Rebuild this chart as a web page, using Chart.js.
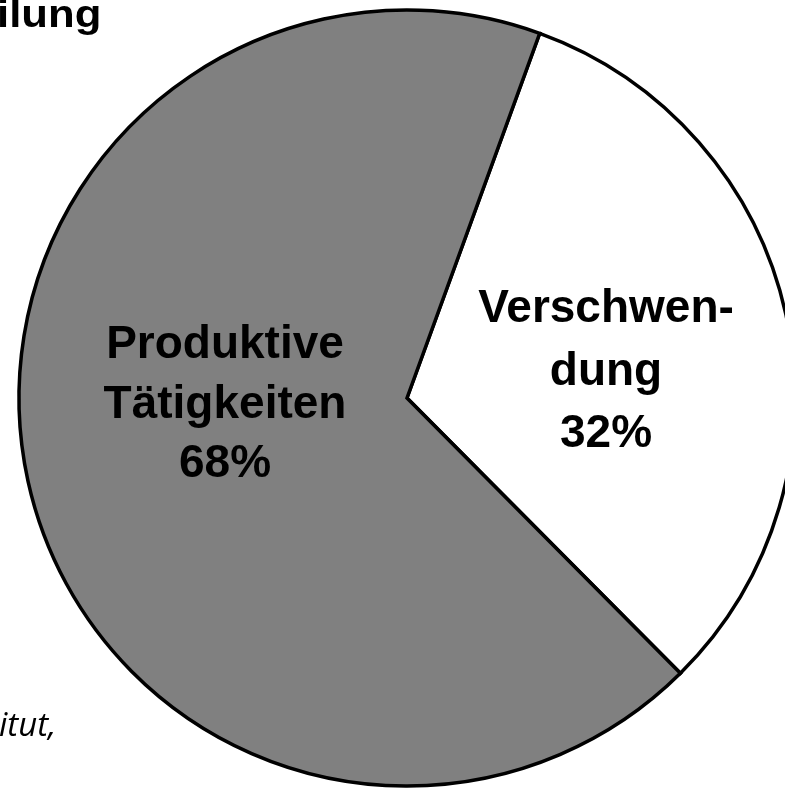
<!DOCTYPE html>
<html>
<head>
<meta charset="utf-8">
<script src="https://cdn.jsdelivr.net/npm/chart.js@4"></script>
<style>
  html, body { margin: 0; padding: 0; background: #fff; width: 785px; height: 788px; overflow: hidden; position: relative; }
  #wrap { position: absolute; left: 7px; top: -2px; width: 800px; height: 800px; }
  #title { position: absolute; left: -3px; top: -6px; font: bold 39px "Liberation Sans", Arial, sans-serif; line-height: 1; color: #000; white-space: nowrap; z-index: 2; transform: scaleX(1.12); transform-origin: 0 0; }
  #source { position: absolute; left: -1px; top: 704px; font: italic 33px "Open Sans", "Noto Sans", sans-serif; line-height: 1.2; color: #000; white-space: nowrap; z-index: 2; }
</style>
</head>
<body>
<div id="title">ilung</div>
<div id="source">itut,</div>
<div id="wrap"><canvas id="c" width="800" height="800"></canvas></div>
<script>
// Data
const categories = ['Verschwendung', 'Produktive Tätigkeiten'];
const labelLines = [['Verschwen-', 'dung'], ['Produktive', 'Tätigkeiten']];
const shares = [32, 68];
const sliceColors = ['#ffffff', '#808080'];

// Label placement (relative to pie centre, px) - layout only
const labelAnchors = [
  { dx: 199, dy: -76, lineGap: 62.5 },
  { dx: -182, dy: -40, lineGap: 59.5 }
];

const sliceLabels = {
  id: 'sliceLabels',
  afterDatasetsDraw(chart) {
    const meta = chart.getDatasetMeta(0);
    const ctx = chart.ctx;
    ctx.save();
    ctx.font = 'bold 46px "Liberation Sans", Arial, sans-serif';
    ctx.fillStyle = '#000';
    ctx.textAlign = 'center';
    ctx.textBaseline = 'alphabetic';
    meta.data.forEach((arc, i) => {
      const a = labelAnchors[i];
      const lines = labelLines[i].concat([shares[i] + '%']);
      lines.forEach((t, k) => {
        ctx.fillText(t, arc.x + a.dx, arc.y + a.dy + k * a.lineGap);
      });
    });
    ctx.restore();
  }
};

new Chart(document.getElementById('c'), {
  type: 'pie',
  data: {
    labels: categories,
    datasets: [{
      data: shares,
      backgroundColor: sliceColors,
      borderColor: '#000',
      borderWidth: 3.5,
      borderJoinStyle: 'miter',
      hoverOffset: 0,
      offset: 0
    }]
  },
  options: {
    responsive: false,
    animation: false,
    events: [],
    rotation: 20,
    radius: 388,
    layout: { padding: 0 },
    plugins: {
      legend: { display: false },
      tooltip: { enabled: false },
      title: { display: false }
    }
  },
  plugins: [sliceLabels]
});
</script>
</body>
</html>
